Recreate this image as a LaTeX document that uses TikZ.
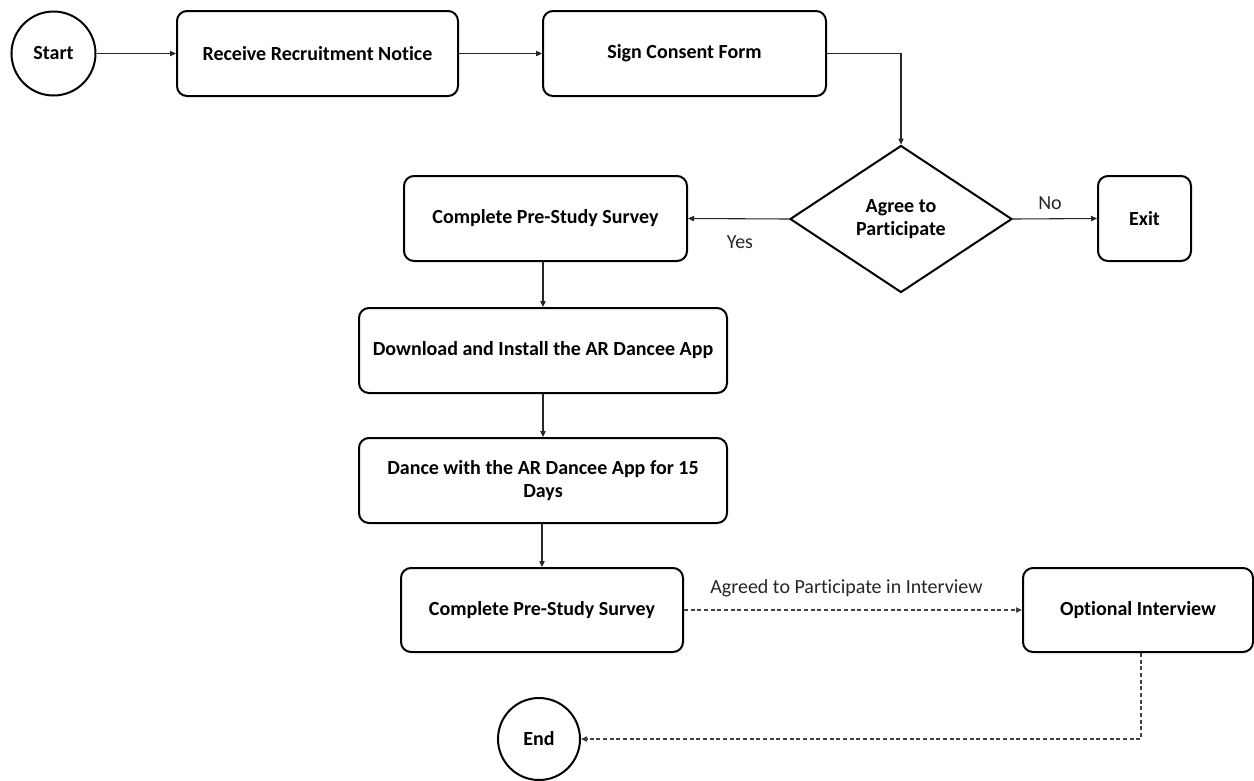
\documentclass[tikz,border=0pt]{standalone}
\usepackage{fontspec}
\setmainfont{Carlito}[Ligatures={NoCommon}]
\usetikzlibrary{shapes.geometric,arrows.meta}
\begin{document}
\begin{tikzpicture}[x=0.6pt,y=-0.6pt,
  every node/.style={font=\fontsize{12}{14.2}\selectfont},
  procbox/.style={draw=black,line width=1.2pt,rounded corners=6pt,align=center,font=\bfseries\fontsize{12}{14.2}\selectfont,minimum height=51pt,inner sep=2pt},
  termnode/.style={draw=black,line width=1.2pt,circle,inner sep=0pt,font=\bfseries\fontsize{12}{14.2}\selectfont},
  decnode/.style={draw=black,line width=1.2pt,diamond,aspect=1.51,inner sep=0pt,align=center,minimum width=133.2pt,minimum height=88.2pt,font=\bfseries\fontsize{12}{14.2}\selectfont},
  conn/.style={draw=black!85,line width=0.65pt,-{Triangle[length=3.6pt,width=3.2pt]}},
  dconn/.style={conn,draw=black!75,dash pattern=on 2.4pt off 1.6pt},
  lbl/.style={font=\fontsize{12}{14.2}\selectfont,text=black!85,inner sep=0pt}]
\useasboundingbox (0,0) rectangle (1254,780);
\node[termnode,minimum size=50.4pt] (start) at (53.5,53.5) {Start};
\node[procbox,minimum width=168.6pt] (recv) at (317.5,53.5) {Receive Recruitment Notice};
\node[procbox,minimum width=169.8pt] (sign) at (684.5,53.5) {Sign Consent Form};
\node[decnode] (agree) at (901,219) {Agree to\\Participate};
\node[procbox,minimum width=169.8pt] (pre) at (545.5,218.5) {Complete Pre-Study Survey};
\node[procbox,minimum width=55.8pt] (exit) at (1144.5,218.5) {Exit};
\node[procbox,minimum width=220.8pt] (dl) at (543,350.5) {Download and Install the AR Dancee App};
\node[procbox,minimum width=220.8pt] (dance) at (543,480.5) {Dance with the AR Dancee App for 15\\Days};
\node[procbox,minimum width=169.2pt,minimum height=50.4pt] (post) at (542,610) {Complete Pre-Study Survey};
\node[procbox,minimum width=138pt,minimum height=50.4pt] (opt) at (1138,610) {Optional Interview};
\node[termnode,minimum size=49.2pt] (end) at (539,739) {End};

\draw[conn] (start) -- (recv);
\draw[conn] (recv) -- (sign);
\draw[conn] (sign.east) -| (agree.north);
\draw[conn] (agree.west) -- (pre.east);
\node[lbl] (yes) at (740,242) {Yes};
\draw[conn] (agree.east) -- (exit.west);
\node[lbl] (no) at (1050,203) {No};
\draw[conn] (dl.north |- pre.south) -- (dl.north);
\draw[conn] (dl.south) -- (dance.north);
\draw[conn] (post.north |- dance.south) -- (post.north);
\draw[dconn] (post.east) -- (opt.west);
\node[lbl,anchor=west] (agreed) at (710,588) {Agreed to Participate in Interview};
\coordinate (bend) at (1141,739);
\draw[dconn] (opt.south -| bend) -- (bend) -- (end.east);
\end{tikzpicture}
\end{document}
